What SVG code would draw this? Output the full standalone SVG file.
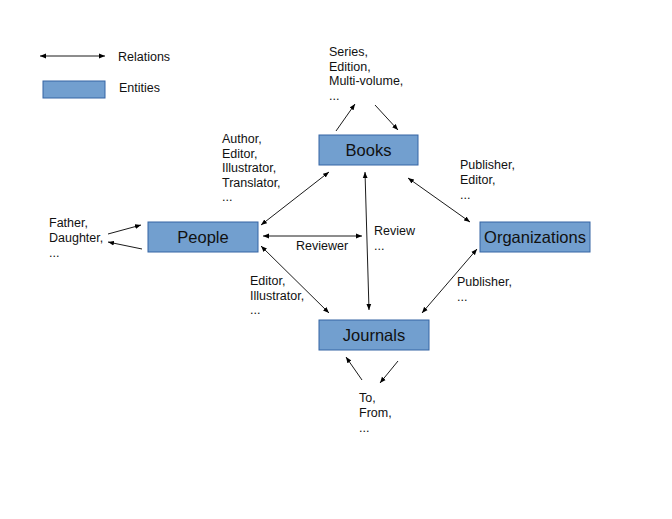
<svg xmlns="http://www.w3.org/2000/svg" width="672" height="519" viewBox="0 0 672 519">
<defs>
<marker id="ah" viewBox="0 0 10 10" refX="10" refY="5" markerWidth="6" markerHeight="6" markerUnits="userSpaceOnUse" orient="auto-start-reverse">
<path d="M0,1 L10,5 L0,9 z" fill="#000"/>
</marker>
<style>
.box{fill:#729fcf;stroke:#3465a4;stroke-width:1}
.nt{font-family:"Liberation Sans",Arial,sans-serif;font-size:16.5px;fill:#111;text-anchor:middle}
.lt{font-family:"Liberation Sans",Arial,sans-serif;font-size:12.5px;fill:#111}
.c{stroke:#000;stroke-width:0.9;fill:none}
.b{marker-start:url(#ah);marker-end:url(#ah)}
.e{marker-end:url(#ah)}
</style>
</defs>
<rect width="672" height="519" fill="#fff"/>
<g id="legend">
<line class="c b" x1="40" y1="56" x2="105" y2="56"/>
<text class="lt" x="118" y="61">Relations</text>
<rect class="box" x="43" y="81" width="62" height="17"/>
<text class="lt" x="119" y="92">Entities</text>
</g>
<g id="connectors">
<line class="c e" x1="336" y1="131" x2="355" y2="104"/>
<line class="c e" x1="375" y1="105" x2="398" y2="130"/>
<line class="c b" x1="329" y1="172" x2="261" y2="225"/>
<line class="c b" x1="263" y1="236" x2="362" y2="236"/>
<line class="c b" x1="365" y1="172" x2="369" y2="310"/>
<line class="c b" x1="408" y1="178" x2="470" y2="222"/>
<line class="c b" x1="477" y1="249" x2="422" y2="313"/>
<line class="c b" x1="261" y1="246" x2="329" y2="313"/>
<line class="c e" x1="108" y1="234" x2="141" y2="225"/>
<line class="c e" x1="142" y1="249" x2="108" y2="242"/>
<line class="c e" x1="362" y1="380" x2="346" y2="357"/>
<line class="c e" x1="398" y1="361" x2="380" y2="383"/>
</g>
<g id="labels">
<text class="lt" x="329" y="56">Series,</text>
<text class="lt" x="329" y="71">Edition,</text>
<text class="lt" x="329" y="85">Multi-volume,</text>
<text class="lt" x="329" y="100">...</text>
<text class="lt" x="222" y="143">Author,</text>
<text class="lt" x="222" y="158">Editor,</text>
<text class="lt" x="222" y="172">Illustrator,</text>
<text class="lt" x="222" y="187">Translator,</text>
<text class="lt" x="222" y="201">...</text>
<text class="lt" x="460" y="169">Publisher,</text>
<text class="lt" x="460" y="184">Editor,</text>
<text class="lt" x="460" y="199">...</text>
<text class="lt" x="49" y="227">Father,</text>
<text class="lt" x="49" y="242">Daughter,</text>
<text class="lt" x="49" y="257">...</text>
<text class="lt" x="296" y="250">Reviewer</text>
<text class="lt" x="374" y="235">Review</text>
<text class="lt" x="374" y="250">...</text>
<text class="lt" x="250" y="285">Editor,</text>
<text class="lt" x="250" y="300">Illustrator,</text>
<text class="lt" x="250" y="314">...</text>
<text class="lt" x="457" y="286">Publisher,</text>
<text class="lt" x="457" y="301">...</text>
<text class="lt" x="359" y="402">To,</text>
<text class="lt" x="359" y="417">From,</text>
<text class="lt" x="359" y="432">...</text>
</g>
<g id="books">
<rect class="box" x="319" y="135" width="99" height="30"/>
<text class="nt" x="368.5" y="156">Books</text>
</g>
<g id="people">
<rect class="box" x="148" y="222" width="110" height="30"/>
<text class="nt" x="203" y="243">People</text>
</g>
<g id="organizations">
<rect class="box" x="480" y="222" width="110" height="30"/>
<text class="nt" x="535" y="243">Organizations</text>
</g>
<g id="journals">
<rect class="box" x="319" y="320" width="110" height="30"/>
<text class="nt" x="374" y="341">Journals</text>
</g>
</svg>
